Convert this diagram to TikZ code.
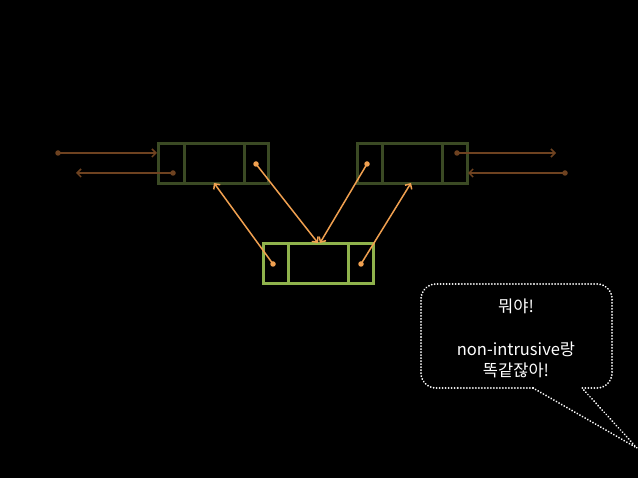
\documentclass[tikz,border=0pt]{standalone}
\usepackage{fontspec}
\setmainfont{Noto Sans CJK KR}
\usetikzlibrary{arrows.meta}
\definecolor{boxdark}{HTML}{3B4A24}
\definecolor{boxlight}{HTML}{8FB24C}
\definecolor{linkbrown}{HTML}{6E4220}
\definecolor{linkorange}{HTML}{F0A050}
\tikzset{
  listbox/.style={draw=#1, line width=3pt, rectangle, minimum width=110pt, minimum height=40pt, inner sep=0pt},
  divider/.style={draw=#1, line width=3pt},
  brownlink/.style={draw=linkbrown, line width=1.5pt, -{Straight Barb[length=4pt,width=8pt]}},
  orangelink/.style={draw=linkorange, line width=1.5pt, -{Straight Barb[length=4pt,width=8pt]}},
  browndot/.style={circle, fill=linkbrown, inner sep=0pt, minimum size=5.5pt},
  orangedot/.style={circle, fill=linkorange, inner sep=0pt, minimum size=5.5pt},
  bubble/.style={draw=white, line width=2pt, dash pattern=on 0.01pt off 3pt, line cap=round},
  bubbletext/.style={text=white, font=\fontsize{16.5}{21}\selectfont, align=center, inner sep=0pt}
}
\begin{document}
\begin{tikzpicture}[x=1pt,y=-1pt]
\fill[black] (0,0) rectangle (638,478);
\useasboundingbox (0,0) rectangle (638,478);

% boxes
\node[listbox=boxdark] (L) at (213,164) {};
\node[listbox=boxdark] (R) at (412,164) {};
\node[listbox=boxlight] (M) at (318.5,264) {};
\draw[divider=boxdark] (184,144) -- (184,184);
\draw[divider=boxdark] (244,144) -- (244,184);
\draw[divider=boxdark] (382,144) -- (382,184);
\draw[divider=boxdark] (442,144) -- (442,184);
\draw[divider=boxlight] (288,244) -- (288,284);
\draw[divider=boxlight] (348,244) -- (348,284);

% brown links
\node[browndot] (d1) at (58,153) {};
\coordinate (e1) at (157,153);
\node[browndot] (d2) at (173,173) {};
\coordinate (e2) at (76,173);
\node[browndot] (d3) at (457,153) {};
\coordinate (e3) at (556,153);
\node[browndot] (d4) at (565,173) {};
\coordinate (e4) at (468,173);
\draw[brownlink] (d1.center) -- (e1);
\draw[brownlink] (d2.center) -- (e2);
\draw[brownlink] (d3.center) -- (e3);
\draw[brownlink] (d4.center) -- (e4);

% orange links
\node[orangedot] (o1) at (256,164) {};
\node[orangedot] (o2) at (367,164) {};
\node[orangedot] (o3) at (273,264) {};
\node[orangedot] (o4) at (361,264) {};
\coordinate (t1) at (318,243);
\coordinate (t2) at (320,243);
\coordinate (t3) at (214,183);
\coordinate (t4) at (411,183);
\draw[orangelink] (o1.center) -- (t1);
\draw[orangelink] (o2.center) -- (t2);
\draw[orangelink] (o3.center) -- (t3);
\draw[orangelink] (o4.center) -- (t4);

% speech bubble
\coordinate (bl) at (533,388);
\coordinate (br) at (582,388);
\coordinate (tip) at (637,448);
\draw[bubble, rounded corners=15pt] (bl) -- (421,388) -- (421,284) -- (612,284) -- (612,388) -- (br);
\draw[bubble] (bl) -- (tip) -- (br);
\node[bubbletext] (t1txt) at (516,306) {뭐야!};
\node[bubbletext] (t2txt) at (516,359.5) {non-intrusive랑\\똑같잖아!};
\end{tikzpicture}
\end{document}
